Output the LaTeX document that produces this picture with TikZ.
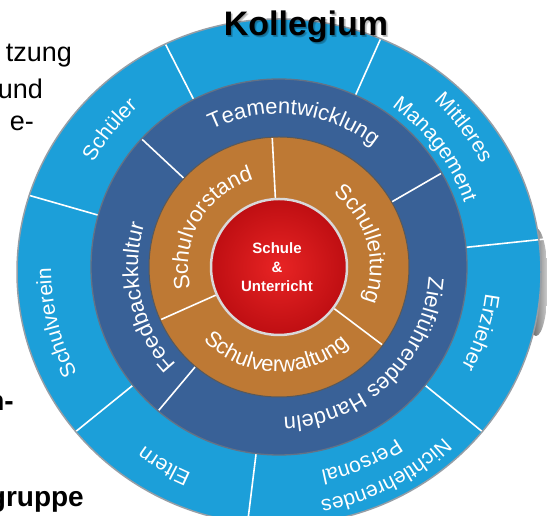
\documentclass[tikz,border=0pt]{standalone}
\usepackage{fontspec}
\setmainfont{Liberation Sans}
\usetikzlibrary{decorations.text,calc}

\definecolor{ringsky}{RGB}{28,159,217}
\definecolor{ringnavy}{RGB}{57,97,151}
\definecolor{ringochre}{RGB}{190,121,52}
\definecolor{corelight}{RGB}{232,36,36}
\definecolor{coredark}{RGB}{190,14,18}
\definecolor{rimgrey}{RGB}{150,158,166}
\definecolor{seamgrey}{RGB}{100,114,134}

% white text set along a clockwise arc (letters pointing outwards)
\newcommand{\cwlabel}[4]{%
  \path[decorate,decoration={text along path,text align=center,
    text color=white,text={|\fontsize{#1}{#1}\selectfont|#4}}]
    ($(C)+(#2+85:#3)$) arc[start angle=#2+85,end angle=#2-85,radius=#3];}
% white text set along a counter-clockwise arc (letters pointing inwards)
\newcommand{\ccwlabel}[4]{%
  \path[decorate,decoration={text along path,text align=center,
    text color=white,text={|\fontsize{#1}{#1}\selectfont|#4}}]
    ($(C)+(#2-85:#3)$) arc[start angle=#2-85,end angle=#2+85,radius=#3];}
% radial separator between two radii
\newcommand{\spoke}[3]{\draw[spokeline] ($(C)+(#1:#2)$) -- ($(C)+(#1:#3)$);}

\begin{document}
\begin{tikzpicture}[x=1pt,y=1pt,
  spokeline/.style={white,line width=1.6pt},
  side/.style={font=\fontsize{27}{27}\selectfont,anchor=base east,inner sep=0pt},
  sidebold/.style={anchor=base east,inner sep=0pt,font=\fontsize{28}{28}\selectfont\bfseries}]
\useasboundingbox (0,0) rectangle (547,516);
\coordinate (C) at (279,249);
\coordinate (O) at (279,244);

% text partly hidden behind the wheel
\node[side] (t1) at (72,454) {tzung};
\node[side] (t2) at (43,417) {und};
\node[side] (t3) at (34,385) {e-};
\node[sidebold] (t4) at (14,105) {n-};
\node[sidebold] (t5) at (84,9) {gruppe};

% dark edge peeking out on the right
\shade[left color=black!80, right color=gray!35] (536,234) ellipse[x radius=12,y radius=54];

% outer ring
\fill[ringsky] (O) ellipse[x radius=262,y radius=253];
\begin{scope}
  \clip (O) ellipse[x radius=262,y radius=253];
  \foreach \a in {117,66,-39,-97,219,164} {\spoke{\a}{150}{300}}
\end{scope}
\spoke{6}{150}{269}
\draw[rimgrey,line width=1.5pt] (O) ellipse[x radius=262,y radius=253];

% middle ring
\fill[ringnavy] (C) circle[radius=188];
\draw[seamgrey,line width=1.3pt] (C) circle[radius=188];
\foreach \a in {137,30,230} {\spoke{\a}{120}{187}}

% inner ring
\fill[ringochre] (C) circle[radius=130];
\draw[gray!70!black,line width=1pt] (C) circle[radius=130];
\foreach \a in {93,-37,204} {\spoke{\a}{60}{129}}

% core
\shade[inner color=corelight,outer color=coredark] (C) circle[radius=69];
\draw[gray!30,line width=2.5pt] (C) circle[radius=68];
\node[font=\fontsize{15}{19}\selectfont\bfseries,text=white,align=center] (core) at (277,249) {Schule\\\&\\Unterricht};

% labels of the outer ring
\cwlabel{21}{141}{213}{Schüler}
\cwlabel{21}{194}{228}{Schulverein}
\cwlabel{21}{240}{224}{Eltern}
\cwlabel{21}{-63}{237}{Nichtlehrendes}
\cwlabel{21}{-67}{208}{Personal}
\cwlabel{21}{-18}{208}{Erzieher}
\cwlabel{21}{37}{227}{Mittleres}
\cwlabel{21}{37}{196}{Management}

% labels of the middle ring
\cwlabel{22}{84}{153}{Teamentwicklung}
\cwlabel{22}{193}{141}{Feedbackkultur}
\cwlabel{22}{-46}{150}{Zielführendes Handeln}

% labels of the inner ring
\cwlabel{22}{150}{91}{Schulvorstand}
\cwlabel{22}{16}{91}{Schulleitung}
\ccwlabel{22}{268}{105}{Schulverwaltung}

% heading
\foreach \d in {1,2,3} {\node[font=\fontsize{34}{34}\selectfont\bfseries,text=black,opacity=.12] at (306+\d*.7,489-\d*.7) {Kollegium};}
\node[font=\fontsize{34}{34}\selectfont\bfseries] (title) at (306,489) {Kollegium};
\end{tikzpicture}
\end{document}
